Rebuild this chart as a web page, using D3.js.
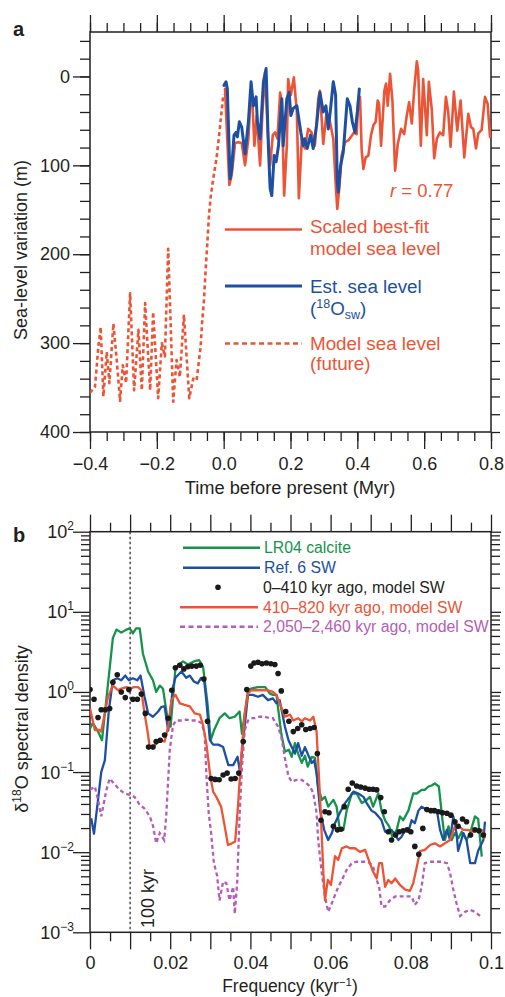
<!DOCTYPE html>
<html><head><meta charset="utf-8">
<script src="https://cdn.jsdelivr.net/npm/d3@7"></script>
<style>
body{margin:0;background:#fff}
svg{display:block}
text{font-family:"Liberation Sans",Arial,Helvetica,sans-serif}
</style>
</head><body>
<svg id="c" width="505" height="997"></svg>
<script>
// ---------- Panel a data ----------
const timeFuture = [-0.400,-0.385,-0.375,-0.368,-0.360,-0.350,-0.342,-0.330,-0.320,-0.310,-0.302,-0.292,-0.280,-0.268,-0.255,-0.245,-0.235,-0.220,-0.211,-0.196,-0.185,-0.176,-0.166,-0.151,-0.141,-0.131,-0.119,-0.103,-0.091,-0.081,-0.069,-0.064,-0.059,-0.054,-0.049,-0.044,-0.039,-0.032,-0.021,-0.011,-0.001];
const seaFuture = [356,349,304,282,360,310,345,278,319,365,325,345,244,353,285,353,255,353,265,362,300,315,194,366,319,338,268,362,340,342,304,274,252,218,188,156,136,117,91,57,20];

const timeModel = [0.004,0.017,0.024,0.034,0.044,0.054,0.064,0.074,0.079,0.086,0.092,0.099,0.109,0.116,0.124,0.132,0.139,0.147,0.154,0.161,0.169,0.174,0.181,0.189,0.193,0.201,0.210,0.219,0.225,0.234,0.243,0.253,0.263,0.273,0.283,0.288,0.298,0.308,0.318,0.328,0.336,0.340,0.346,0.353,0.363,0.373,0.381,0.390,0.398,0.403,0.408,0.413,0.418,0.425,0.433,0.441,0.448,0.455,0.461,0.465,0.471,0.481,0.486,0.491,0.498,0.505,0.513,0.521,0.531,0.540,0.548,0.555,0.563,0.570,0.578,0.582,0.590,0.597,0.608,0.614,0.623,0.630,0.638,0.647,0.657,0.665,0.672,0.679,0.689,0.699,0.709,0.720,0.732,0.740,0.747,0.755,0.762,0.772,0.782,0.790,0.797,0.800];
const seaModel = [14,122,111,75,74,75,100,70,33,29,78,44,100,40,-5,63,100,66,63,70,18,29,134,78,3,21,1,40,137,70,81,59,63,78,25,16,76,40,51,70,126,149,126,89,74,72,68,63,65,25,23,83,104,91,89,66,55,51,27,31,78,16,8,33,-3,27,106,76,59,65,44,29,53,16,-17,-7,78,3,66,6,38,92,70,63,66,23,40,79,17,61,27,91,42,57,59,81,64,60,23,31,68,60];

const timeEst = [0.001,0.007,0.011,0.019,0.024,0.031,0.037,0.041,0.047,0.054,0.064,0.074,0.082,0.089,0.097,0.101,0.109,0.119,0.127,0.134,0.139,0.144,0.151,0.157,0.164,0.174,0.178,0.189,0.196,0.201,0.208,0.219,0.231,0.238,0.243,0.250,0.260,0.268,0.278,0.288,0.298,0.306,0.313,0.320,0.328,0.335,0.340,0.343,0.350,0.358,0.370,0.378,0.385,0.393,0.400,0.406];
const seaEst = [10,6,14,115,104,66,63,68,51,57,87,51,6,33,23,51,70,6,-9,81,126,134,89,96,78,25,78,25,18,44,36,33,63,78,70,81,66,81,55,18,40,33,59,36,6,21,119,130,100,85,25,33,51,63,40,14];

const timeTicks = [-0.4,-0.2,0,0.2,0.4,0.6,0.8];
const seaTicks = [0,100,200,300,400];

// ---------- Panel b data ----------
const freqLR04 = [0,0.0007,0.002,0.003,0.0057,0.0066,0.0078,0.0091,0.0099,0.0107,0.0115,0.0124,0.0132,0.0145,0.0157,0.0165,0.0174,0.0182,0.0195,0.0201,0.0213,0.0221,0.0232,0.0244,0.0259,0.0272,0.0282,0.0293,0.0301,0.0309,0.0323,0.0336,0.0348,0.0361,0.0373,0.0379,0.0394,0.0402,0.0419,0.0437,0.0448,0.0456,0.0465,0.0477,0.0486,0.0496,0.0503,0.0511,0.0519,0.0528,0.0536,0.0543,0.0553,0.0561,0.0569,0.0578,0.0586,0.0594,0.0607,0.0615,0.0623,0.0632,0.064,0.0653,0.0665,0.0678,0.069,0.0698,0.0706,0.0719,0.0727,0.0736,0.0746,0.0754,0.0765,0.0773,0.0781,0.0794,0.0806,0.0815,0.0827,0.0835,0.0844,0.0852,0.086,0.087,0.0879,0.0885,0.0894,0.0902,0.091,0.0919,0.0927,0.0939,0.0948,0.096,0.0968,0.0977];
const densLR04 = [0.35,0.41,0.32,0.25,4.7,6.0,5.5,6.0,6.2,5.4,6.2,6.2,3.0,1.8,1.4,1.0,1.2,1.1,0.41,0.37,1.96,2.2,2.4,2.2,2.4,2.5,2.06,0.72,0.25,0.33,0.47,0.54,0.47,0.49,0.57,0.30,1.05,1.1,1.15,1.15,0.96,0.92,0.92,0.30,0.18,0.19,0.155,0.23,0.17,0.13,0.16,0.117,0.155,0.15,0.066,0.045,0.049,0.037,0.045,0.037,0.019,0.019,0.033,0.054,0.054,0.041,0.045,0.049,0.037,0.054,0.033,0.025,0.021,0.0156,0.019,0.028,0.025,0.033,0.054,0.054,0.060,0.060,0.066,0.068,0.072,0.066,0.025,0.0142,0.021,0.0142,0.0173,0.015,0.018,0.0142,0.0173,0.028,0.026,0.0088];

const freqRef6 = [0.0003,0.001,0.002,0.0028,0.0037,0.0047,0.0057,0.0068,0.0078,0.0088,0.0097,0.0107,0.0118,0.0126,0.0136,0.0145,0.0157,0.017,0.0178,0.0186,0.0195,0.0207,0.0213,0.0228,0.024,0.0249,0.0259,0.0269,0.0277,0.0285,0.029,0.0299,0.0307,0.032,0.0332,0.0345,0.0357,0.0368,0.0374,0.0382,0.0394,0.0406,0.0419,0.0431,0.0444,0.0456,0.0465,0.0473,0.0486,0.0495,0.0503,0.0511,0.0519,0.0528,0.0536,0.0546,0.0553,0.0559,0.0565,0.0574,0.0584,0.0594,0.0603,0.0611,0.0623,0.0636,0.0648,0.0657,0.0669,0.0682,0.069,0.0702,0.0711,0.0719,0.0727,0.0736,0.0752,0.0769,0.0777,0.0786,0.0794,0.0802,0.081,0.0819,0.0827,0.0844,0.0865,0.0873,0.0881,0.089,0.0898,0.0906,0.0914,0.0918,0.0931,0.0939,0.0948,0.096,0.0968,0.0981,0.0985];
const densRef6 = [0.0265,0.017,0.045,0.10,0.14,0.59,1.4,1.48,1.4,1.6,1.4,1.48,1.4,1.6,0.87,0.54,0.49,0.57,0.65,0.66,0.33,1.15,1.5,1.8,1.5,1.6,1.35,1.28,1.5,1.35,0.79,0.25,0.22,0.22,0.205,0.122,0.122,0.155,0.10,0.25,0.92,0.92,0.87,0.92,0.79,0.83,0.72,0.79,0.37,0.25,0.205,0.17,0.23,0.16,0.205,0.155,0.13,0.14,0.097,0.033,0.019,0.0142,0.0173,0.023,0.031,0.041,0.049,0.057,0.054,0.049,0.041,0.033,0.031,0.028,0.025,0.018,0.019,0.0142,0.0156,0.019,0.018,0.025,0.023,0.033,0.037,0.033,0.033,0.019,0.0142,0.019,0.0142,0.028,0.0173,0.0104,0.0173,0.0142,0.0073,0.0073,0.0104,0.0142,0.024];

const freqDots = [0,0.001,0.002,0.0028,0.0038,0.0049,0.0057,0.0068,0.0078,0.0088,0.0097,0.0107,0.0118,0.0128,0.0138,0.0146,0.0157,0.0165,0.0175,0.0186,0.0195,0.0204,0.0213,0.0224,0.0234,0.0244,0.0254,0.0265,0.0275,0.0284,0.0293,0.0302,0.0312,0.0322,0.0332,0.0342,0.0352,0.0362,0.0371,0.0382,0.0391,0.0401,0.0409,0.0419,0.0429,0.044,0.0451,0.0461,0.0469,0.0477,0.0488,0.0496,0.0507,0.0518,0.0528,0.0538,0.0549,0.0559,0.0567,0.0576,0.0586,0.0596,0.0607,0.0617,0.0626,0.0634,0.0644,0.0654,0.0665,0.0675,0.0686,0.0696,0.0706,0.0715,0.0725,0.0734,0.0744,0.0752,0.0762,0.0771,0.0781,0.0791,0.08,0.081,0.082,0.083,0.084,0.085,0.0859,0.0869,0.0879,0.089,0.09,0.091,0.0918,0.0929,0.0939,0.0949,0.096,0.097,0.0981];
const densDots = [1.07,0.81,0.48,0.60,0.60,0.62,1.32,1.64,1.0,0.85,1.07,0.81,0.81,0.94,0.54,0.205,0.205,0.24,0.25,0.29,0.47,1.05,2.0,2.15,1.94,2.06,2.1,2.1,2.15,1.45,0.43,0.083,0.081,0.080,0.092,0.097,0.082,0.083,0.097,0.24,1.07,2.1,2.3,2.35,2.25,2.3,2.25,2.2,1.7,1.03,0.57,0.43,0.32,0.35,0.39,0.34,0.35,0.36,0.17,0.025,0.032,0.031,0.021,0.019,0.0193,0.037,0.061,0.073,0.067,0.065,0.063,0.061,0.061,0.060,0.048,0.032,0.018,0.0142,0.0164,0.018,0.0185,0.019,0.018,0.0118,0.0094,0.0198,0.034,0.033,0.033,0.032,0.031,0.0306,0.029,0.024,0.021,0.026,0.024,0.0164,0.019,0.0185,0.0164];

const freqMid = [0,0.0012,0.0024,0.0028,0.0045,0.0057,0.007,0.0078,0.0091,0.0099,0.011,0.012,0.0128,0.0136,0.0143,0.0149,0.0157,0.017,0.0178,0.0186,0.0195,0.0203,0.0213,0.0224,0.0236,0.0249,0.0261,0.0274,0.0282,0.029,0.0299,0.0307,0.0315,0.0327,0.0336,0.0344,0.0354,0.0362,0.0369,0.0377,0.0386,0.0394,0.0402,0.0415,0.0427,0.0444,0.0456,0.0465,0.0473,0.0486,0.0499,0.0507,0.0519,0.0528,0.0536,0.0549,0.0557,0.0565,0.0574,0.0582,0.0586,0.0593,0.0601,0.0611,0.0619,0.0628,0.064,0.0648,0.0661,0.0673,0.0686,0.0698,0.0706,0.0715,0.0721,0.0728,0.0736,0.0744,0.0752,0.0761,0.0773,0.0786,0.0798,0.0806,0.0815,0.0823,0.0835,0.0848,0.086,0.0873,0.0885,0.0898,0.091,0.0918,0.0931,0.0943,0.0956,0.0968,0.0977,0.0985];
const densMid = [0.625,0.335,0.335,0.32,0.87,1.2,1.05,1.1,1.15,1.1,1.15,1.15,1.05,0.54,0.335,0.205,0.205,0.24,0.25,0.24,0.37,0.79,0.92,0.72,0.69,0.66,0.54,0.52,0.385,0.23,0.097,0.057,0.049,0.037,0.021,0.0123,0.0129,0.0136,0.037,0.155,0.54,0.96,1.05,1.05,1.05,1.05,1.0,0.92,0.72,0.49,0.52,0.44,0.47,0.43,0.47,0.44,0.49,0.32,0.045,0.0055,0.0025,0.0045,0.0039,0.0089,0.008,0.0112,0.0118,0.0112,0.0112,0.0101,0.0107,0.0073,0.0057,0.0047,0.0073,0.0073,0.0037,0.0045,0.0041,0.0047,0.0039,0.0034,0.0033,0.0041,0.0066,0.0103,0.0107,0.0123,0.0129,0.0118,0.0129,0.0142,0.021,0.0215,0.019,0.019,0.018,0.019,0.019,0.0149];

const freqOld = [0,0.0012,0.002,0.0028,0.0041,0.0049,0.0062,0.0074,0.0087,0.0099,0.0111,0.0124,0.0136,0.0149,0.0157,0.0165,0.0174,0.0185,0.019,0.0199,0.0207,0.0215,0.0228,0.024,0.0253,0.0265,0.0278,0.0286,0.029,0.0296,0.0302,0.0309,0.0317,0.0323,0.0332,0.034,0.0348,0.0357,0.0361,0.0367,0.0373,0.0379,0.0386,0.0394,0.0402,0.0411,0.0423,0.0436,0.0448,0.0456,0.0469,0.0477,0.0486,0.0495,0.0503,0.0515,0.0528,0.054,0.0549,0.0557,0.0565,0.0569,0.0578,0.0586,0.0594,0.0603,0.0615,0.0628,0.064,0.0653,0.0665,0.0678,0.069,0.0698,0.0706,0.0715,0.0721,0.0727,0.0736,0.0748,0.0761,0.0773,0.0786,0.0802,0.081,0.0819,0.0827,0.0835,0.0848,0.086,0.0877,0.089,0.0898,0.0906,0.0914,0.0923,0.0935,0.0948,0.096,0.0973,0.0977];
const densOld = [0.06,0.066,0.045,0.028,0.06,0.083,0.07,0.06,0.054,0.052,0.049,0.039,0.035,0.028,0.0215,0.0129,0.0173,0.0142,0.028,0.19,0.385,0.44,0.44,0.45,0.44,0.44,0.41,0.30,0.097,0.031,0.0173,0.0073,0.0051,0.0025,0.0043,0.0041,0.0025,0.0037,0.0017,0.0041,0.028,0.117,0.335,0.44,0.47,0.47,0.49,0.49,0.47,0.47,0.37,0.275,0.15,0.088,0.076,0.08,0.08,0.072,0.066,0.054,0.031,0.0142,0.0055,0.0028,0.0018,0.0023,0.0033,0.0045,0.006,0.0073,0.0076,0.0076,0.0076,0.0073,0.0066,0.0045,0.0037,0.0021,0.0021,0.0025,0.0028,0.0028,0.0028,0.0028,0.0022,0.0025,0.0037,0.0073,0.0076,0.0076,0.0076,0.0073,0.0055,0.0034,0.0023,0.0016,0.0018,0.0019,0.0018,0.0016,0.0017];

const freqTicks = [0,0.02,0.04,0.06,0.08,0.1];
const densTicks = [1e-3,1e-2,1e-1,1,10,100];
const densExp = ["\u22123","\u22122","\u22121","0","1","2"];

// ---------- styling ----------
const FONT = '"Liberation Sans", Arial, Helvetica, sans-serif';
const INK = "#231f20";
const RED = "#eb5436", BLUE = "#1d4fa3", GREEN = "#16934a", PURPLE = "#b35db8";
const svg = d3.select("#c");

function styleAxis(g) {
  g.attr("font-family", FONT).attr("font-size", 18);
  g.select(".domain").remove();
  g.selectAll(".tick line").attr("stroke", INK).attr("stroke-width", 1.3);
  g.selectAll(".tick text").attr("fill", INK);
}
const zip = (a, b) => a.slice(0, Math.min(a.length, b.length)).map((v, i) => [v, b[i]]);

// ================= Panel a =================
const xA = d3.scaleLinear().domain([-0.4, 0.8]).range([90, 491]);
const yA = d3.scaleLinear().domain([-50, 400]).range([32, 432]);
const timeMinor = d3.range(-8, 17).map(i => +(i * 0.05).toFixed(2));
const seaMinor = d3.range(-2, 21).map(i => i * 20);

const gA = svg.append("g");
gA.append("g").attr("transform", "translate(0,432)")
  .call(d3.axisBottom(xA).tickValues(timeMinor).tickSize(9).tickFormat("")).call(styleAxis);
gA.append("g").attr("transform", "translate(0,432)")
  .call(d3.axisBottom(xA).tickValues(timeTicks).tickSize(17).tickPadding(8).tickFormat(d3.format(".1f"))).call(styleAxis);
gA.append("g").attr("transform", "translate(0,32)")
  .call(d3.axisTop(xA).tickValues(timeMinor).tickSize(9).tickFormat("")).call(styleAxis);
gA.append("g").attr("transform", "translate(0,32)")
  .call(d3.axisTop(xA).tickValues(timeTicks).tickSize(17).tickFormat("")).call(styleAxis);
gA.append("g").attr("transform", "translate(90,0)")
  .call(d3.axisLeft(yA).tickValues(seaMinor).tickSize(10).tickFormat("")).call(styleAxis);
gA.append("g").attr("transform", "translate(90,0)")
  .call(d3.axisLeft(yA).tickValues(seaTicks).tickSize(17).tickPadding(3).tickFormat(d3.format("d"))).call(styleAxis);
gA.append("g").attr("transform", "translate(491,0)")
  .call(d3.axisRight(yA).tickValues(seaMinor).tickSize(9).tickFormat("")).call(styleAxis);

gA.append("rect").attr("x", 90).attr("y", 32).attr("width", 401).attr("height", 400)
  .attr("fill", "none").attr("stroke", INK).attr("stroke-width", 1.5);

const lineA = d3.line().x(d => xA(d[0])).y(d => yA(d[1])).curve(d3.curveLinear);
const clipA = svg.append("clipPath").attr("id", "clipA");
clipA.append("rect").attr("x", 90).attr("y", 32).attr("width", 401).attr("height", 400);
const plotA = gA.append("g").attr("clip-path", "url(#clipA)");

plotA.append("path").datum(zip(timeFuture, seaFuture)).attr("d", lineA)
  .attr("fill", "none").attr("stroke", RED).attr("stroke-width", 2.6)
  .attr("stroke-dasharray", "4,3").attr("stroke-linejoin", "round");
plotA.append("path").datum(zip(timeModel, seaModel)).attr("d", lineA)
  .attr("fill", "none").attr("stroke", RED).attr("stroke-width", 2.6)
  .attr("stroke-linejoin", "round").attr("stroke-linecap", "round");
plotA.append("path").datum(zip(timeEst, seaEst)).attr("d", lineA)
  .attr("fill", "none").attr("stroke", BLUE).attr("stroke-width", 3)
  .attr("stroke-linejoin", "round").attr("stroke-linecap", "round");

// labels panel a
svg.append("text").attr("x", 13).attr("y", 36).attr("font-size", 20).attr("font-weight", "bold").attr("fill", INK).text("a");
svg.append("text").attr("x", 290).attr("y", 494).attr("text-anchor", "middle").attr("font-size", 18.3).attr("fill", INK)
  .text("Time before present (Myr)");
svg.append("text").attr("transform", "translate(27,250) rotate(-90)").attr("text-anchor", "middle")
  .attr("font-size", 18).attr("fill", INK).text("Sea-level variation (m)");

const rT = svg.append("text").attr("x", 390).attr("y", 197).attr("font-size", 18.5).attr("fill", RED);
rT.append("tspan").attr("font-style", "italic").text("r");
rT.append("tspan").text(" = 0.77");

// legend panel a
const LA = 18.8;
svg.append("line").attr("x1", 225).attr("x2", 302).attr("y1", 229.5).attr("y2", 229.5).attr("stroke", RED).attr("stroke-width", 2.6);
svg.append("text").attr("x", 310).attr("y", 233).attr("font-size", LA).attr("fill", RED).text("Scaled best-fit");
svg.append("text").attr("x", 310).attr("y", 255).attr("font-size", LA).attr("fill", RED).text("model sea level");
svg.append("line").attr("x1", 225).attr("x2", 302).attr("y1", 286).attr("y2", 286).attr("stroke", BLUE).attr("stroke-width", 3);
svg.append("text").attr("x", 310).attr("y", 293).attr("font-size", LA).attr("fill", BLUE).text("Est. sea level");
const oT = svg.append("text").attr("x", 310).attr("y", 315).attr("font-size", LA).attr("fill", BLUE);
oT.append("tspan").text("(");
oT.append("tspan").attr("dy", -7).attr("font-size", 12.5).text("18");
oT.append("tspan").attr("dy", 7).text("O");
oT.append("tspan").attr("dy", 4).attr("font-size", 12.5).text("sw");
oT.append("tspan").attr("dy", -4).text(")");
svg.append("line").attr("x1", 225).attr("x2", 302).attr("y1", 343.5).attr("y2", 343.5).attr("stroke", RED).attr("stroke-width", 2.6).attr("stroke-dasharray", "5,3.5");
svg.append("text").attr("x", 310).attr("y", 350).attr("font-size", LA).attr("fill", RED).text("Model sea level");
svg.append("text").attr("x", 310).attr("y", 370).attr("font-size", LA).attr("fill", RED).text("(future)");

// ================= Panel b =================
const xB = d3.scaleLinear().domain([0, 0.1]).range([90, 491]);
const yB = d3.scaleLog().domain([1e-3, 1e2]).range([932.3, 531.7]);
const freqMajor = d3.range(0, 11).map(i => +(i * 0.01).toFixed(2));
const freqMinor = d3.range(0, 10).map(i => +(i * 0.01 + 0.005).toFixed(3));
const densMinor = [];
for (let k = -3; k < 2; k++) for (let m = 2; m < 10; m++) densMinor.push(m * Math.pow(10, k));

const gB = svg.append("g");
gB.append("g").attr("transform", "translate(0,932.3)")
  .call(d3.axisBottom(xB).tickValues(freqMinor).tickSize(9).tickFormat("")).call(styleAxis);
gB.append("g").attr("transform", "translate(0,932.3)")
  .call(d3.axisBottom(xB).tickValues(freqMajor).tickSize(17).tickPadding(7)
    .tickFormat(d => freqTicks.some(t => Math.abs(t - d) < 1e-9) ? (d === 0 ? "0" : String(d)) : "")).call(styleAxis);
gB.append("g").attr("transform", "translate(0,531.7)")
  .call(d3.axisTop(xB).tickValues(freqMinor).tickSize(9).tickFormat("")).call(styleAxis);
gB.append("g").attr("transform", "translate(0,531.7)")
  .call(d3.axisTop(xB).tickValues(freqMajor).tickSize(17).tickFormat("")).call(styleAxis);
gB.append("g").attr("transform", "translate(90,0)")
  .call(d3.axisLeft(yB).tickValues(densMinor).tickSize(9).tickFormat("")).call(styleAxis);
gB.append("g").attr("transform", "translate(90,0)")
  .call(d3.axisLeft(yB).tickValues(densTicks).tickSize(17).tickFormat("")).call(styleAxis);
gB.append("g").attr("transform", "translate(491,0)")
  .call(d3.axisRight(yB).tickValues(densMinor).tickSize(9).tickFormat("")).call(styleAxis);
gB.append("g").attr("transform", "translate(491,0)")
  .call(d3.axisRight(yB).tickValues(densTicks).tickSize(10).tickFormat("")).call(styleAxis);

densTicks.forEach((v, i) => {
  const t = gB.append("text").attr("x", 74).attr("y", yB(v) + 6.5).attr("text-anchor", "end")
    .attr("font-size", 18).attr("fill", INK);
  t.append("tspan").text("10");
  t.append("tspan").attr("dy", -8).attr("font-size", 12).text(densExp[i]);
});

gB.append("rect").attr("x", 90).attr("y", 531.7).attr("width", 401).attr("height", 400.6)
  .attr("fill", "none").attr("stroke", INK).attr("stroke-width", 1.5);

// 100 kyr marker
gB.append("line").attr("x1", xB(0.01)).attr("x2", xB(0.01)).attr("y1", 531.7).attr("y2", 932.3)
  .attr("stroke", INK).attr("stroke-width", 1.2).attr("stroke-dasharray", "2.5,2.5");
gB.append("text").attr("transform", `translate(${xB(0.01) + 24},928) rotate(-90)`)
  .attr("font-size", 18).attr("fill", INK).text("100 kyr");

const clipB = svg.append("clipPath").attr("id", "clipB");
clipB.append("rect").attr("x", 90).attr("y", 531.7).attr("width", 401).attr("height", 400.6);
const plotB = gB.append("g").attr("clip-path", "url(#clipB)");
const lineB = d3.line().x(d => xB(d[0])).y(d => yB(d[1]));

plotB.append("path").datum(zip(freqLR04, densLR04)).attr("d", lineB)
  .attr("fill", "none").attr("stroke", GREEN).attr("stroke-width", 2.3).attr("stroke-linejoin", "round");
plotB.append("path").datum(zip(freqRef6, densRef6)).attr("d", lineB)
  .attr("fill", "none").attr("stroke", BLUE).attr("stroke-width", 2.3).attr("stroke-linejoin", "round");
plotB.append("path").datum(zip(freqOld, densOld)).attr("d", lineB)
  .attr("fill", "none").attr("stroke", PURPLE).attr("stroke-width", 2.3).attr("stroke-dasharray", "4,3");
plotB.append("path").datum(zip(freqMid, densMid)).attr("d", lineB)
  .attr("fill", "none").attr("stroke", RED).attr("stroke-width", 2.3).attr("stroke-linejoin", "round");
plotB.selectAll("circle.dot").data(zip(freqDots, densDots)).enter().append("circle")
  .attr("class", "dot").attr("cx", d => xB(d[0])).attr("cy", d => yB(d[1])).attr("r", 2.8).attr("fill", "#1a1a1a");

// labels panel b
svg.append("text").attr("x", 13).attr("y", 542).attr("font-size", 20).attr("font-weight", "bold").attr("fill", INK).text("b");
const fT = svg.append("text").attr("x", 290).attr("y", 992).attr("text-anchor", "middle").attr("font-size", 17.5).attr("fill", INK);
fT.append("tspan").text("Frequency (kyr");
fT.append("tspan").attr("dy", -6).attr("font-size", 11.5).text("\u22121");
fT.append("tspan").attr("dy", 6).text(")");
const dT = svg.append("text").attr("transform", "translate(28,729) rotate(-90)").attr("text-anchor", "middle")
  .attr("font-size", 18).attr("fill", INK);
dT.append("tspan").text("\u03b4");
dT.append("tspan").attr("dy", -7).attr("font-size", 12).text("18");
dT.append("tspan").attr("dy", 7).text("O spectral density");

// legend panel b
const LB = 15.8;
svg.append("line").attr("x1", 183).attr("x2", 260).attr("y1", 547.7).attr("y2", 547.7).attr("stroke", GREEN).attr("stroke-width", 2.5);
svg.append("text").attr("x", 264).attr("y", 553).attr("font-size", LB).attr("fill", GREEN).text("LR04 calcite");
svg.append("line").attr("x1", 183).attr("x2", 260).attr("y1", 567.7).attr("y2", 567.7).attr("stroke", BLUE).attr("stroke-width", 2.5);
svg.append("text").attr("x", 264).attr("y", 573).attr("font-size", LB).attr("fill", BLUE).text("Ref. 6 SW");
svg.append("circle").attr("cx", 218).attr("cy", 587.3).attr("r", 2.8).attr("fill", "#1a1a1a");
svg.append("text").attr("x", 263).attr("y", 593).attr("font-size", LB).attr("fill", INK).text("0\u2013410 kyr ago, model SW");
svg.append("line").attr("x1", 180).attr("x2", 258).attr("y1", 607.3).attr("y2", 607.3).attr("stroke", RED).attr("stroke-width", 2.5);
svg.append("text").attr("x", 263).attr("y", 613).attr("font-size", LB).attr("fill", RED).text("410\u2013820 kyr ago, model SW");
svg.append("line").attr("x1", 180).attr("x2", 258).attr("y1", 626.7).attr("y2", 626.7).attr("stroke", PURPLE).attr("stroke-width", 2.5).attr("stroke-dasharray", "5,3.5");
svg.append("text").attr("x", 263).attr("y", 632).attr("font-size", LB).attr("fill", PURPLE).text("2,050\u20132,460 kyr ago, model SW");
</script>
</body></html>
